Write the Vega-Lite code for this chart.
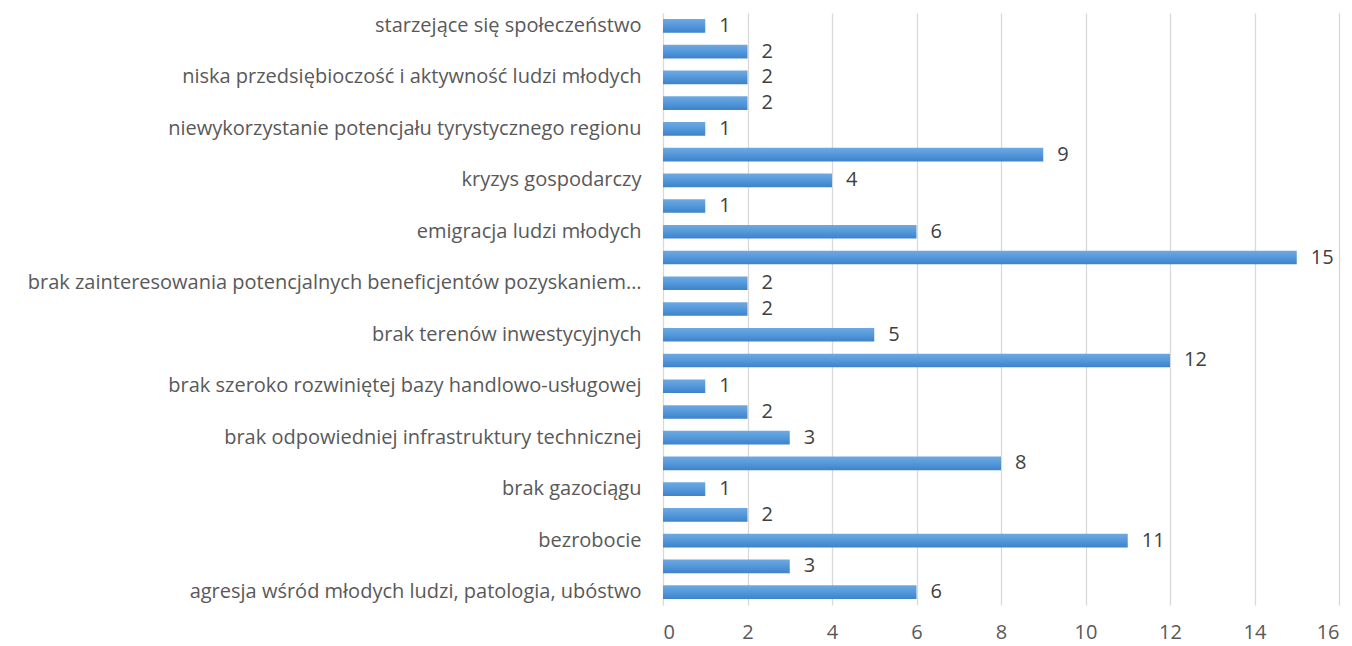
{
  "$schema": "https://vega.github.io/schema/vega-lite/v6.json",
  "width": 676,
  "height": 592,
  "autosize": {"type": "none"},
  "padding": {"left": 663, "top": 13, "right": 13, "bottom": 41},
  "background": "white",
  "config": {"view": {"stroke": null}, "font": "Open Sans"},
  "data": {"values": [
    {"nr": 1, "kategoria": "agresja wśród młodych ludzi, patologia, ubóstwo", "liczba": 6},
    {"nr": 2, "kategoria": " ", "liczba": 3},
    {"nr": 3, "kategoria": "bezrobocie", "liczba": 11},
    {"nr": 4, "kategoria": "  ", "liczba": 2},
    {"nr": 5, "kategoria": "brak gazociągu", "liczba": 1},
    {"nr": 6, "kategoria": "   ", "liczba": 8},
    {"nr": 7, "kategoria": "brak odpowiedniej infrastruktury technicznej", "liczba": 3},
    {"nr": 8, "kategoria": "    ", "liczba": 2},
    {"nr": 9, "kategoria": "brak szeroko rozwiniętej bazy handlowo-usługowej", "liczba": 1},
    {"nr": 10, "kategoria": "     ", "liczba": 12},
    {"nr": 11, "kategoria": "brak terenów inwestycyjnych", "liczba": 5},
    {"nr": 12, "kategoria": "      ", "liczba": 2},
    {"nr": 13, "kategoria": "brak zainteresowania potencjalnych beneficjentów pozyskaniem…", "liczba": 2},
    {"nr": 14, "kategoria": "       ", "liczba": 15},
    {"nr": 15, "kategoria": "emigracja ludzi młodych", "liczba": 6},
    {"nr": 16, "kategoria": "        ", "liczba": 1},
    {"nr": 17, "kategoria": "kryzys gospodarczy", "liczba": 4},
    {"nr": 18, "kategoria": "         ", "liczba": 9},
    {"nr": 19, "kategoria": "niewykorzystanie potencjału tyrystycznego  regionu", "liczba": 1},
    {"nr": 20, "kategoria": "          ", "liczba": 2},
    {"nr": 21, "kategoria": "niska przedsiębioczość i aktywność ludzi młodych", "liczba": 2},
    {"nr": 22, "kategoria": "           ", "liczba": 2},
    {"nr": 23, "kategoria": "starzejące się społeczeństwo", "liczba": 1}
  ]},
  "encoding": {
    "y": {
      "field": "kategoria",
      "type": "nominal",
      "sort": {"field": "nr", "order": "descending"},
      "scale": {"paddingInner": 0.47, "paddingOuter": 0.235},
      "axis": {
        "title": null,
        "ticks": false,
        "domain": true,
        "domainColor": "#d9d9d9",
        "labelFontSize": 20,
        "labelColor": "#595959",
        "labelPadding": 22,
        "labelLimit": 700
      }
    },
    "x": {
      "field": "liczba",
      "type": "quantitative",
      "scale": {"domain": [0, 16], "nice": false},
      "axis": {
        "title": null,
        "values": [0, 2, 4, 6, 8, 10, 12, 14, 16],
        "ticks": false,
        "domain": false,
        "grid": true,
        "gridColor": "#d9d9d9",
        "gridWidth": 1.3,
        "labelFontSize": 20,
        "labelColor": "#595959",
        "labelPadding": 17
      }
    }
  },
  "layer": [
    {
      "mark": {
        "type": "bar",
        "fill": {
          "gradient": "linear",
          "x1": 0, "y1": 0, "x2": 0, "y2": 1,
          "stops": [
            {"offset": 0, "color": "#6ea9e2"},
            {"offset": 0.5, "color": "#5498da"},
            {"offset": 1, "color": "#3d82cb"}
          ]
        }
      }
    },
    {
      "mark": {"type": "text", "align": "left", "baseline": "middle", "dx": 14, "fontSize": 20, "color": "#404040"},
      "encoding": {"text": {"field": "liczba", "type": "quantitative"}}
    }
  ]
}
